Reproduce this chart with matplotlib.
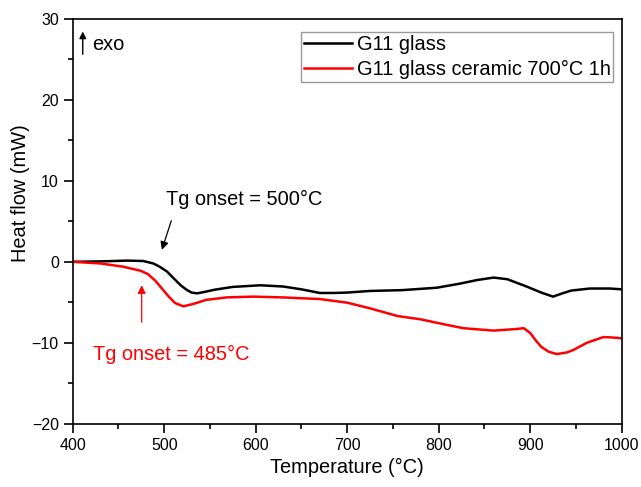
import matplotlib
matplotlib.use('Agg')
import matplotlib.pyplot as plt
from matplotlib.ticker import MultipleLocator

plt.rcParams['font.family'] = ['Liberation Sans', 'DejaVu Sans']

# G11 glass (black)
glass_T = [400, 430, 460, 477, 488, 495, 503, 510, 518, 525, 530, 536, 545, 555, 575, 605,
           630, 650, 670, 685, 700, 725, 760, 798, 823, 842, 860, 875, 896, 912, 925, 935,
           945, 965, 987, 1000]
glass_hf = [0, 0.05, 0.15, 0.1, -0.2, -0.6, -1.2, -2.0, -2.9, -3.5, -3.8, -3.9, -3.7, -3.45,
            -3.1, -2.9, -3.05, -3.4, -3.85, -3.85, -3.8, -3.6, -3.5, -3.2, -2.7, -2.25, -1.95,
            -2.15, -3.05, -3.8, -4.3, -3.9, -3.55, -3.3, -3.3, -3.4]

# G11 glass ceramic 700°C 1h (red)
gc_T = [400, 430, 455, 474, 482, 490, 499, 505, 512, 521, 532, 546, 568, 597, 630, 670, 700,
        725, 755, 780, 805, 827, 860, 885, 893, 900, 906, 912, 920, 929, 940, 947, 962, 980,
        990, 1000]
gc_hf = [0, -0.2, -0.6, -1.1, -1.5, -2.3, -3.5, -4.3, -5.1, -5.5, -5.2, -4.7, -4.4, -4.3,
         -4.4, -4.6, -5.05, -5.75, -6.7, -7.1, -7.7, -8.2, -8.5, -8.3, -8.2, -8.8, -9.7,
         -10.5, -11.1, -11.4, -11.2, -10.9, -10.0, -9.3, -9.35, -9.45]

fig = plt.figure(figsize=(6.41, 4.87), dpi=100)
ax = fig.add_axes([0.1134, 0.13, 0.8565, 0.831])

ax.plot(glass_T, glass_hf, color='black', lw=1.8, label='G11 glass')
ax.plot(gc_T, gc_hf, color='#ff0000', lw=1.8, label='G11 glass ceramic 700°C 1h')

ax.set_xlim(400, 1000)
ax.set_ylim(-20, 30)
ax.xaxis.set_major_locator(MultipleLocator(100))
ax.xaxis.set_minor_locator(MultipleLocator(50))
ax.yaxis.set_major_locator(MultipleLocator(10))
ax.yaxis.set_minor_locator(MultipleLocator(5))
ax.tick_params(which='both', direction='out', top=False, right=False, labelsize=11.5, width=1.2)
ax.tick_params(which='major', length=6.5)
ax.tick_params(which='minor', length=3.5)
for s in ax.spines.values():
    s.set_linewidth(1.2)

ax.set_xlabel('Temperature (°C)', fontsize=14.4)
ax.set_ylabel('Heat flow (mW)', fontsize=14.4)
ax.yaxis.set_label_coords(-0.077, 0.57)

leg = ax.legend(loc='upper right', bbox_to_anchor=(0.985, 0.967), fontsize=14.4, frameon=True,
                fancybox=False, edgecolor='gray', handlelength=2.4, handletextpad=0.25,
                borderpad=0.15, labelspacing=0.3, borderaxespad=0)
leg.get_frame().set_linewidth(1.0)

# exo arrow
ax.annotate('', xy=(411, 28.8), xytext=(411, 25.3),
            arrowprops=dict(arrowstyle='-|>', color='black', lw=1.0, mutation_scale=10))
ax.text(421, 26.8, 'exo', fontsize=14.4, va='center', ha='left')

# Tg annotations
ax.annotate('', xy=(496.5, 1.15), xytext=(508.7, 5.4),
            arrowprops=dict(arrowstyle='-|>', color='black', lw=0.9, mutation_scale=12))
ax.text(502, 7.7, 'Tg onset = 500°C', fontsize=14.4, va='center', ha='left')

ax.annotate('', xy=(475.4, -2.55), xytext=(475.4, -7.8),
            arrowprops=dict(arrowstyle='-|>', color='#ff0000', lw=0.9, mutation_scale=12))
ax.text(422.5, -11.4, 'Tg onset = 485°C', fontsize=14.4, va='center', ha='left', color='#ff0000')

fig.savefig('out.png', dpi=100)
